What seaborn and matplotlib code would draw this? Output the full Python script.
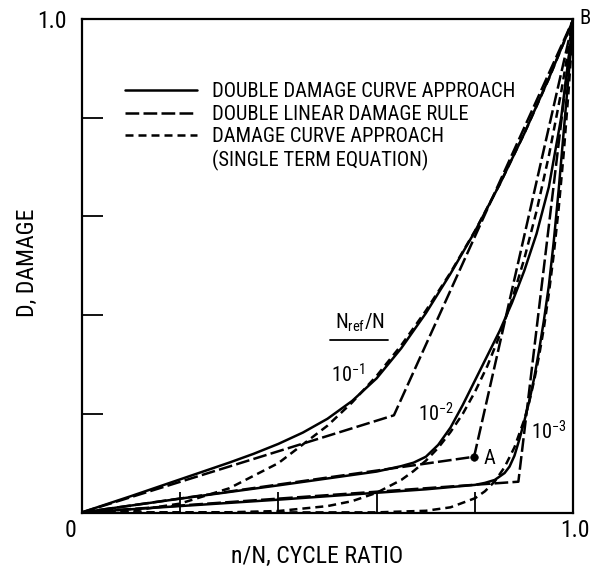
import matplotlib
matplotlib.use("Agg")
import matplotlib.pyplot as plt
import seaborn as sns
import pandas as pd
from matplotlib import font_manager
from matplotlib.font_manager import FontProperties
from matplotlib.textpath import TextPath
from matplotlib.lines import Line2D

# ---------------- data ----------------
# Double damage curve approach (solid)
ddca_x_1 = [0, 0.1, 0.2, 0.3, 0.35, 0.4, 0.45, 0.5, 0.55, 0.6, 0.65, 0.7, 0.75, 0.8, 0.85, 0.9, 0.95, 1.0]
ddca_d_1 = [0, 0.033, 0.067, 0.101, 0.119, 0.139, 0.162, 0.190, 0.226, 0.272, 0.333, 0.404, 0.484, 0.570, 0.665, 0.768, 0.880, 1.0]
ddca_x_2 = [0, 0.2, 0.4, 0.5, 0.6, 0.65, 0.675, 0.7, 0.725, 0.75, 0.775, 0.8, 0.825, 0.85, 0.875, 0.9, 0.925, 0.95, 0.975, 1.0]
ddca_d_2 = [0, 0.028, 0.055, 0.069, 0.083, 0.094, 0.101, 0.113, 0.137, 0.172, 0.218, 0.268, 0.318, 0.368, 0.425, 0.490, 0.565, 0.660, 0.800, 1.0]
ddca_x_3 = [0, 0.2, 0.4, 0.6, 0.7, 0.8, 0.82, 0.84, 0.86, 0.87, 0.88, 0.89, 0.9, 0.91, 0.92, 0.93, 0.94, 0.95, 0.96, 0.97, 0.98, 0.99, 1.0]
ddca_d_3 = [0, 0.013, 0.026, 0.040, 0.047, 0.056, 0.060, 0.066, 0.080, 0.093, 0.115, 0.148, 0.185, 0.225, 0.272, 0.328, 0.390, 0.460, 0.550, 0.655, 0.770, 0.885, 1.0]

# Double linear damage rule (long dashes): origin -> knee -> (1, 1)
dldr_x_1 = [0, 0.635, 1.0]
dldr_d_1 = [0, 0.197, 1.0]
dldr_x_2 = [0, 0.798, 1.0]
dldr_d_2 = [0, 0.113, 1.0]
dldr_x_3 = [0, 0.888, 1.0]
dldr_d_3 = [0, 0.0624, 1.0]

# Damage curve approach, single term equation (short dashes)
dca_x_1 = [0, 0.1, 0.2, 0.3, 0.4, 0.5, 0.55, 0.6, 0.65, 0.7, 0.75, 0.8, 0.85, 0.9, 0.95, 1.0]
dca_d_1 = [0, 0.003, 0.018, 0.049, 0.100, 0.176, 0.223, 0.277, 0.339, 0.409, 0.486, 0.571, 0.665, 0.768, 0.879, 1.0]
dca_x_2 = [0, 0.3, 0.4, 0.5, 0.55, 0.6, 0.65, 0.675, 0.7, 0.725, 0.75, 0.775, 0.8, 0.825, 0.85, 0.875, 0.9, 0.925, 0.95, 0.975, 1.0]
dca_d_2 = [0, 0.0005, 0.003, 0.013, 0.023, 0.040, 0.066, 0.084, 0.105, 0.131, 0.163, 0.200, 0.245, 0.297, 0.359, 0.431, 0.514, 0.611, 0.723, 0.852, 1.0]
dca_x_3 = [0, 0.6, 0.7, 0.75, 0.8, 0.82, 0.84, 0.86, 0.88, 0.9, 0.91, 0.92, 0.93, 0.94, 0.95, 0.96, 0.97, 0.98, 0.99, 1.0]
dca_d_3 = [0, 0.0003, 0.0035, 0.0105, 0.029, 0.043, 0.063, 0.092, 0.132, 0.188, 0.224, 0.267, 0.317, 0.375, 0.444, 0.524, 0.617, 0.726, 0.853, 1.0]

ratio_labels = ["10$^{-1}$", "10$^{-2}$", "10$^{-3}$"]
legend_labels = ["DOUBLE DAMAGE CURVE APPROACH", "DOUBLE LINEAR DAMAGE RULE",
                 "DAMAGE CURVE APPROACH", "(SINGLE TERM EQUATION)"]
tick_vals = [0.2, 0.4, 0.6, 0.8]

# ---------------- font choice (narrow face if one is installed) ----------------
sns.set_style("ticks")
stretches = {}
for f in font_manager.fontManager.ttflist:
    stretches.setdefault(f.name, set()).add(str(f.stretch))
FAM, STRETCH = "DejaVu Sans", "normal"
if "Liberation Sans Narrow" in stretches:
    FAM = "Liberation Sans Narrow"
elif "Roboto Condensed" in stretches:
    FAM = "Roboto Condensed"
else:
    for fam in ["Noto Sans", "DejaVu Sans", "Open Sans", "Roboto", "Liberation Sans"]:
        st = stretches.get(fam, set())
        hit = [s for s in ("condensed", "semi-condensed", "extra-condensed") if s in st]
        if hit:
            FAM, STRETCH = fam, hit[0]
            break
plt.rcParams["font.family"] = [FAM, "DejaVu Sans"]
plt.rcParams["font.stretch"] = STRETCH
plt.rcParams["text.color"] = "black"
plt.rcParams["axes.labelcolor"] = "black"
plt.rcParams["mathtext.fontset"] = "custom"
plt.rcParams["mathtext.rm"] = FAM
plt.rcParams["mathtext.it"] = FAM
plt.rcParams["mathtext.bf"] = FAM

# size the text so that the first legend line is about 300 px wide (as in the reference)
prop = FontProperties(family=FAM, stretch=STRETCH)
w_pt = TextPath((0, 0), legend_labels[0], size=10, prop=prop).get_extents().width
FS = min(15.0, 10 * 300 / (w_pt * 100 / 72))
FS_PX = FS * 100 / 72
FS_AX = FS * 1.16

LW = 1.8
SOLID = "-"
LONG = (0, (5.5, 1.7))
SHORT = (0, (3.2, 2.0))

fig = plt.figure(figsize=(5.92, 5.68), dpi=100)
ax = fig.add_axes([0.1377, 0.0977, 0.831, 0.8688])

def draw(xs, ds, ls):
    df = pd.DataFrame({"x": xs, "d": ds})
    sns.lineplot(data=df, x="x", y="d", ax=ax, color="black", lw=LW,
                 linestyle=ls, estimator=None, sort=False, legend=False)

for xs, ds in [(ddca_x_1, ddca_d_1), (ddca_x_2, ddca_d_2), (ddca_x_3, ddca_d_3)]:
    draw(xs, ds, SOLID)
for xs, ds in [(dldr_x_1, dldr_d_1), (dldr_x_2, dldr_d_2), (dldr_x_3, dldr_d_3)]:
    draw(xs, ds, LONG)
for xs, ds in [(dca_x_1, dca_d_1), (dca_x_2, dca_d_2), (dca_x_3, dca_d_3)]:
    draw(xs, ds, SHORT)

# point A: knee of the 10^-2 double linear rule
sns.scatterplot(x=[dldr_x_2[1]], y=[dldr_d_2[1]], ax=ax, color="black", s=30,
                edgecolor="black", legend=False, zorder=5)

ax.set_xlim(0, 1)
ax.set_ylim(0, 1)
ax.set_xticks(tick_vals)
ax.set_yticks(tick_vals)
ax.set_xticklabels([])
ax.set_yticklabels([])
ax.tick_params(direction="in", length=15, width=1.3, color="black")
for sp in ax.spines.values():
    sp.set_linewidth(1.6)
    sp.set_color("black")
ax.set_xlabel("")
ax.set_ylabel("")

# axis texts
ax.text(0.4787, -0.09, "n/N, CYCLE RATIO", transform=ax.transAxes, ha="center", va="center", fontsize=FS_AX)
ax.text(-0.109, 0.506, "D, DAMAGE", transform=ax.transAxes, ha="center", va="center", rotation=90, fontsize=FS_AX)
ax.text(-0.0234, -0.0355, "0", transform=ax.transAxes, ha="center", va="center", fontsize=FS_AX)
ax.text(1.0033, -0.0355, "1.0", transform=ax.transAxes, ha="center", va="center", fontsize=FS_AX)
ax.text(-0.030, 0.996, "1.0", transform=ax.transAxes, ha="right", va="center", fontsize=FS_AX)
ax.text(1.012, 1.002, "B", transform=ax.transAxes, ha="left", va="center", fontsize=FS)
ax.text(0.83, 0.11, "A", ha="center", va="center", fontsize=FS)

# curve annotations
ax.text(0.566, 0.385, r"$\mathregular{N_{ref}/N}$", ha="center", va="center", fontsize=FS)
ax.plot([0.505, 0.623], [0.349, 0.349], color="black", lw=1.3)
ax.text(0.542, 0.279, ratio_labels[0], ha="center", va="center", fontsize=FS)
ax.text(0.72, 0.20, ratio_labels[1], ha="center", va="center", fontsize=FS)
ax.text(0.95, 0.163, ratio_labels[2], ha="center", va="center", fontsize=FS)

# legend
handles = [Line2D([], [], color="black", lw=LW, linestyle=SOLID),
           Line2D([], [], color="black", lw=LW, linestyle=LONG),
           Line2D([], [], color="black", lw=LW, linestyle=SHORT),
           Line2D([], [], color="none", lw=0)]
row_h = 1.17 * FS_PX
lspace = max(0.0, (23 - row_h) / FS_PX) + 3.5 / FS_PX
ax.legend(handles, legend_labels, loc="upper left", bbox_to_anchor=(0.0884, 0.872),
          frameon=False, fontsize=FS, handlelength=72 / FS_PX, handletextpad=15 / FS_PX,
          labelspacing=lspace, borderpad=0, borderaxespad=0)

fig.savefig("out.png", dpi=100, facecolor="white")
